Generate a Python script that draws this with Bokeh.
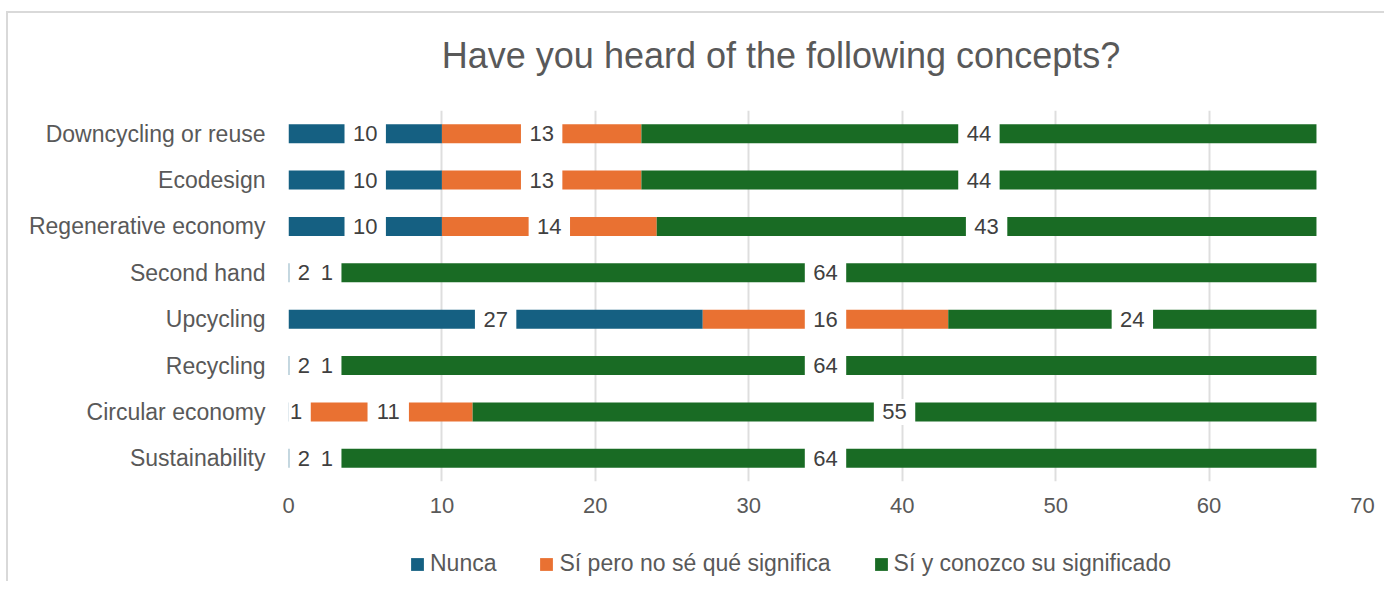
from bokeh.plotting import figure
from bokeh.models import Range1d, FactorRange, Legend, LegendItem, ColumnDataSource, FixedTicker, Label
from bokeh.layouts import column
from bokeh.embed import file_html
from bokeh.resources import INLINE
from bokeh.core.properties import value

# ---------------- data ----------------
categories = ["Downcycling or reuse", "Ecodesign", "Regenerative economy", "Second hand",
              "Upcycling", "Recycling", "Circular economy", "Sustainability"]
nunca = [10, 10, 10, 2, 27, 2, 1, 2]
si_no_se = [13, 13, 14, 1, 16, 1, 11, 1]
si_conozco = [44, 44, 43, 64, 24, 64, 55, 64]
series_names = ["Nunca", "Sí pero no sé qué significa", "Sí y conozco su significado"]
x_ticks = [0, 10, 20, 30, 40, 50, 60, 70]
title_text = "Have you heard of the following concepts?"

# ---------------- style ----------------
colors = ["#156082", "#E97132", "#196B24"]
FONT = "Liberation Sans"
TXT = "#595959"
W = 1376

def strip(height, x_range):
    f = figure(width=W, height=height, x_range=x_range, y_range=Range1d(0, 1),
               output_backend="svg", toolbar_location=None,
               min_border_left=0, min_border_right=0, min_border_top=0, min_border_bottom=0)
    f.axis.visible = False
    f.grid.visible = False
    f.outline_line_color = None
    return f

src = ColumnDataSource(dict(cat=categories, nunca=nunca, si_no=si_no_se, si_si=si_conozco))

p = figure(width=W, height=421,
           y_range=FactorRange(factors=categories[::-1]),
           x_range=Range1d(0, 70),
           output_backend="svg", toolbar_location=None,
           min_border_left=280, min_border_right=22,
           min_border_top=0, min_border_bottom=50)

renderers = p.hbar_stack(["nunca", "si_no", "si_si"], y="cat", height=0.41,
                         color=colors, line_color=None, source=src)

# data labels with white boxes
lx, ly, lt, lw = [], [], [], []
for i, c in enumerate(categories):
    left = 0
    for vals in (nunca, si_no_se, si_conozco):
        v = vals[i]
        lx.append(left + v / 2.0)
        ly.append(c)
        lt.append(str(v))
        lw.append(12.2 * len(str(v)) + 17)
        left += v
lab_src = ColumnDataSource(dict(x=lx, y=ly, t=lt, w=lw))
p.rect(x="x", y="y", width="w", height=26, width_units="screen", height_units="screen",
       fill_color="white", line_color=None, source=lab_src)
p.text(x="x", y="y", text="t", source=lab_src, text_font=value(FONT),
       text_font_size="22px", text_color="#404040", text_align="center",
       text_baseline="middle")

# axes
p.xaxis.ticker = FixedTicker(ticks=x_ticks)
for ax in (p.xaxis[0], p.yaxis[0]):
    ax.axis_line_color = None
    ax.major_tick_line_color = None
    ax.minor_tick_line_color = None
    ax.major_tick_out = 0
    ax.major_tick_in = 0
    ax.major_label_text_color = TXT
    ax.major_label_text_font = FONT
p.xaxis.major_label_text_font_size = "22px"
p.xaxis.major_label_standoff = 16
p.yaxis.major_label_text_font_size = "23px"
p.yaxis.major_label_standoff = 23

p.xgrid.grid_line_color = "#dedede"
p.xgrid.grid_line_width = 2
p.ygrid.grid_line_color = None
p.outline_line_color = None
p.background_fill_color = "white"
p.border_fill_color = "white"

# title strip (its frame is aligned with the main frame by the column layout)
pt = strip(97, p.x_range)
pt.add_layout(Label(x=32.1, y=0.567, text=title_text, text_align="center",
                    text_baseline="middle", text_font=FONT, text_font_size="36px",
                    text_color=TXT))

# legend strip
pl = strip(50, Range1d(0, 1))
key_src = ColumnDataSource(dict(y=[-1.0], v=[0.0]))
key_renderers = [pl.hbar(y="y", right="v", left="v", height=0.4, color=c, line_color=None,
                         source=key_src) for c in colors]
items = [LegendItem(label=n, renderers=[r]) for n, r in zip(series_names, key_renderers)]
leg = Legend(items=items, location=(121, 4), orientation="horizontal",
             glyph_width=16, glyph_height=16, label_standoff=5, spacing=42,
             padding=0, margin=0, border_line_color=None, background_fill_alpha=0,
             label_text_font_size="23px", label_text_color=TXT, label_text_font=FONT)
pl.add_layout(leg, "center")

layout = column(pt, p, pl, spacing=0,
                styles={"border-left": "2px solid #d9d9d9", "border-top": "2px solid #d9d9d9",
                        "margin-left": "6px", "margin-top": "11px"})

open("out.html", "w").write(file_html(layout, INLINE))
